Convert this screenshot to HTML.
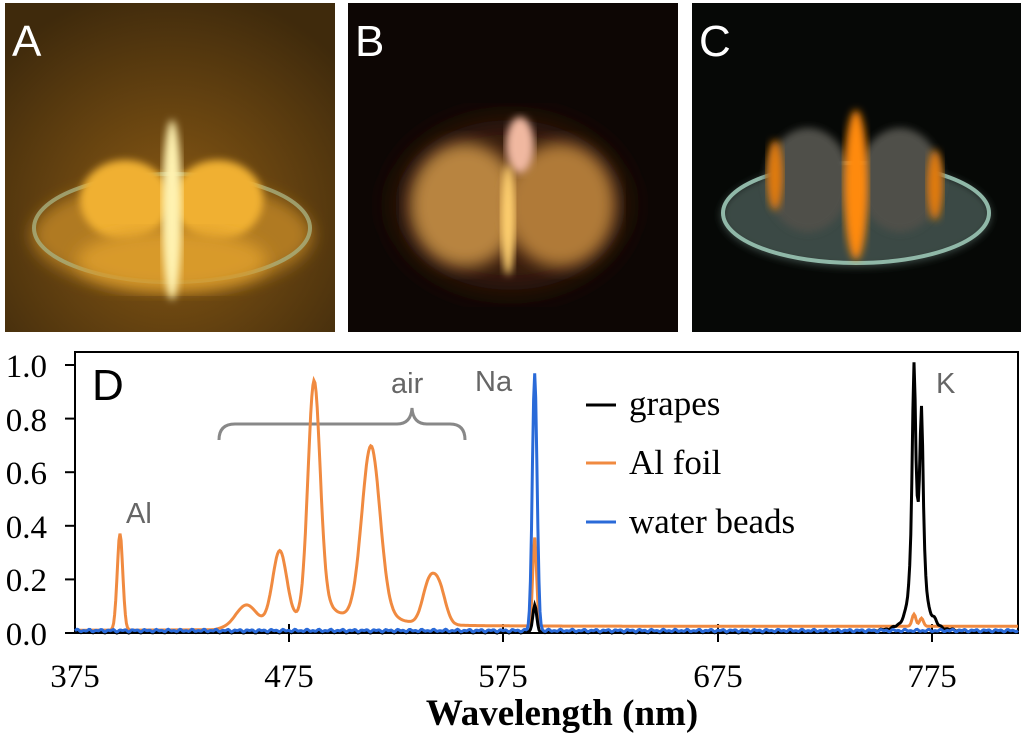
<!DOCTYPE html>
<html><head><meta charset="utf-8"><style>
html,body{margin:0;padding:0;background:#fff;width:1024px;height:735px;overflow:hidden}
svg{display:block}
.t{font-family:"Liberation Serif",serif;font-size:33px;fill:#000}
.lg{font-family:"Liberation Serif",serif;font-size:35px;fill:#000}
.g{font-family:"Liberation Sans",sans-serif;font-size:29px;fill:#666}
</style></head><body>
<svg width="1024" height="735" viewBox="0 0 1024 735" xmlns="http://www.w3.org/2000/svg">
<defs>
<filter id="b4"><feGaussianBlur stdDeviation="4"/></filter>
<filter id="b8"><feGaussianBlur stdDeviation="8"/></filter>
<filter id="b15"><feGaussianBlur stdDeviation="15"/></filter>
<radialGradient id="bgA" cx="0.5" cy="0.65" r="0.7"><stop offset="0" stop-color="#8a5a14"/><stop offset="1" stop-color="#3f2a0c"/></radialGradient>
<clipPath id="cA"><rect x="5" y="3" width="330" height="329"/></clipPath>
<clipPath id="cB"><rect x="348" y="3" width="330" height="329"/></clipPath>
<clipPath id="cC"><rect x="692" y="3" width="329" height="329"/></clipPath>
</defs>
<g clip-path="url(#cA)">
<rect x="5" y="3" width="330" height="329" fill="url(#bgA)"/>
<ellipse cx="172" cy="235" rx="140" ry="55" fill="#b07a20" filter="url(#b8)"/>
<ellipse cx="172" cy="228" rx="138" ry="54" fill="none" stroke="#a8b080" stroke-width="4" opacity="0.8"/>
<ellipse cx="125" cy="200" rx="45" ry="40" fill="#f0b030" filter="url(#b4)"/>
<ellipse cx="218" cy="200" rx="45" ry="40" fill="#f0b030" filter="url(#b4)"/>
<ellipse cx="172" cy="260" rx="95" ry="30" fill="#d89a2a" filter="url(#b8)"/>
<ellipse cx="172" cy="210" rx="10" ry="90" fill="#fff2b0" filter="url(#b4)"/>
<text x="12" y="56" font-family="Liberation Sans,sans-serif" font-size="44" fill="#fff">A</text>
</g>
<g clip-path="url(#cB)">
<rect x="348" y="3" width="330" height="329" fill="#0d0604"/>
<ellipse cx="510" cy="205" rx="115" ry="85" fill="#3a1e0a" filter="url(#b15)"/>
<ellipse cx="465" cy="205" rx="55" ry="62" fill="#b88440" filter="url(#b8)"/>
<ellipse cx="560" cy="205" rx="55" ry="62" fill="#b07a38" filter="url(#b8)"/>
<ellipse cx="520" cy="145" rx="14" ry="28" fill="#f0b8a0" filter="url(#b4)"/>
<ellipse cx="508" cy="220" rx="7" ry="55" fill="#ffd070" filter="url(#b4)"/>
<text x="355" y="56" font-family="Liberation Sans,sans-serif" font-size="44" fill="#fff">B</text>
</g>
<g clip-path="url(#cC)">
<rect x="692" y="3" width="329" height="329" fill="#060806"/>
<ellipse cx="856" cy="215" rx="135" ry="52" fill="#3a4a44" filter="url(#b4)"/>
<ellipse cx="856" cy="213" rx="133" ry="50" fill="none" stroke="#90b8a8" stroke-width="4"/>
<ellipse cx="808" cy="180" rx="42" ry="52" fill="#505048" filter="url(#b4)"/>
<ellipse cx="900" cy="180" rx="42" ry="52" fill="#505048" filter="url(#b4)"/>
<ellipse cx="856" cy="185" rx="12" ry="75" fill="#ff8a10" filter="url(#b4)"/>
<ellipse cx="775" cy="175" rx="8" ry="35" fill="#e07a10" filter="url(#b4)"/>
<ellipse cx="935" cy="185" rx="8" ry="35" fill="#e07a10" filter="url(#b4)"/>
<text x="699" y="56" font-family="Liberation Sans,sans-serif" font-size="44" fill="#fff">C</text>
</g>
<rect x="75" y="352" width="943" height="281" fill="#fff" stroke="#000" stroke-width="2"/>
<g stroke="#000" stroke-width="2">
<line x1="65" y1="633" x2="75" y2="633"/><line x1="65" y1="579.4" x2="75" y2="579.4"/>
<line x1="65" y1="525.8" x2="75" y2="525.8"/><line x1="65" y1="472.2" x2="75" y2="472.2"/>
<line x1="65" y1="418.6" x2="75" y2="418.6"/><line x1="65" y1="365" x2="75" y2="365"/>
<line x1="289" y1="624" x2="289" y2="642"/><line x1="503" y1="624" x2="503" y2="642"/>
<line x1="718" y1="624" x2="718" y2="642"/><line x1="932" y1="624" x2="932" y2="642"/>
</g>
<g class="t" text-anchor="end">
<text x="47" y="645">0.0</text><text x="47" y="591">0.2</text><text x="47" y="538">0.4</text>
<text x="47" y="484">0.6</text><text x="47" y="431">0.8</text><text x="47" y="377">1.0</text>
</g>
<g class="t" text-anchor="middle">
<text x="75" y="687">375</text><text x="289" y="687">475</text><text x="503" y="687">575</text>
<text x="718" y="687">675</text><text x="932" y="687">775</text>
</g>
<text x="562" y="725" text-anchor="middle" font-family="Liberation Serif,serif" font-weight="bold" font-size="37">Wavelength (nm)</text>
<text x="92" y="400" font-family="Liberation Sans,sans-serif" font-size="44" fill="#000">D</text>
<text class="g" x="126" y="523">Al</text>
<text class="g" x="391" y="393">air</text>
<text class="g" x="475" y="391">Na</text>
<text class="g" x="936" y="393">K</text>
<path d="M219,440 Q219,424 235,424 L397,424 Q411,424 412,408 Q413,424 427,424 L450,424 Q465,424 465,440" fill="none" stroke="#888" stroke-width="3"/>
<path id="po" fill="none" stroke="#f08a40" stroke-width="3"/>
<path id="pk" fill="none" stroke="#000" stroke-width="3"/>
<path id="pb" fill="none" stroke="#2a6ad8" stroke-width="3"/>
<line x1="586" y1="405" x2="616" y2="405" stroke="#000" stroke-width="3"/>
<line x1="586" y1="463" x2="616" y2="463" stroke="#f08a40" stroke-width="3"/>
<line x1="586" y1="522" x2="616" y2="522" stroke="#2a6ad8" stroke-width="3"/>
<text class="lg" x="629" y="415">grapes</text>
<text class="lg" x="629" y="474">Al foil</text>
<text class="lg" x="629" y="533">water beads</text>
</svg>
<script>
function X(nm){return 75+(nm-375)*2.143;}
function Y(v){return 633-v*268;}
function g(x,c,s,a){return a*Math.exp(-0.5*((x-c)/s)*((x-c)/s));}
function l(x,c,w,a){return a/(1+((x-c)/w)*((x-c)/w));}
function path(f,noise){var d="";for(var nm=375;nm<=815;nm+=0.5){var v=f(nm)+(noise?noise*Math.sin(nm*1.7)*Math.sin(nm*0.53):0);d+=(d?"L":"M")+X(nm).toFixed(1)+","+Y(v).toFixed(1);}return d;}
var base=function(n){return n<440?0.01:(n<450?0.01+(n-440)*0.0015:0.025);};
document.getElementById("po").setAttribute("d",path(function(n){
 return base(n)+g(n,396,1.3,0.36)+g(n,455,4.5,0.075)+g(n,470.5,3.3,0.27)+g(n,486.5,2.8,0.84)+l(n,490,7,0.09)+g(n,513,4.2,0.6)+l(n,515,8,0.07)+g(n,540,3,0.14)+g(n,545,3,0.13)+g(n,589.5,0.9,0.33)+g(n,766.5,0.9,0.045)+g(n,770,0.9,0.03);},0));
document.getElementById("pk").setAttribute("d",path(function(n){
 return 0.004+g(n,589.5,0.9,0.1)+l(n,766.5,1.1,0.94)+l(n,770,1.1,0.76)+g(n,776,1,0.02);},0.004));
document.getElementById("pb").setAttribute("d",path(function(n){
 return 0.009+g(n,589.5,1.1,0.96);},0.005));
</script>
</body></html>
